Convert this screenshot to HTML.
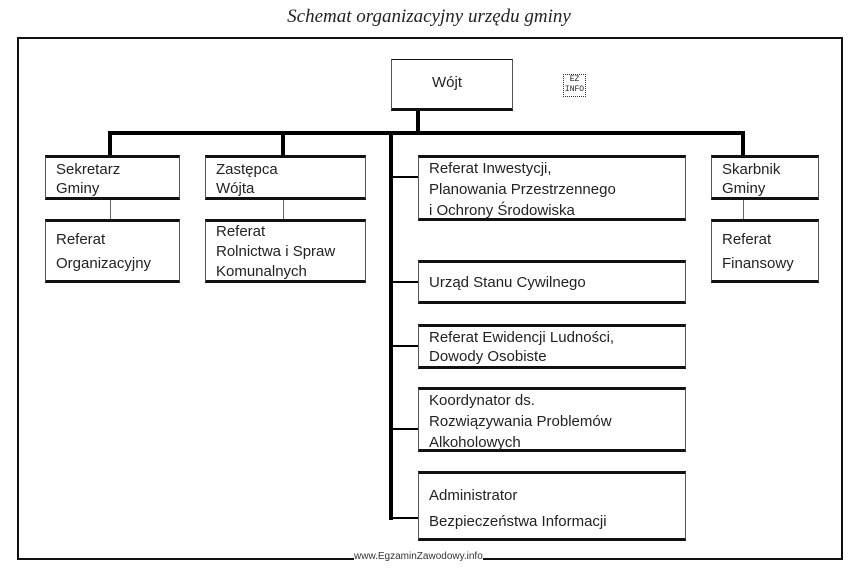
<!DOCTYPE html>
<html><head><meta charset="utf-8"><style>
body{margin:0;width:858px;height:568px;background:#fff;position:relative;overflow:hidden;font-family:"Liberation Sans",sans-serif;color:#222}
.a{position:absolute}
.b{position:absolute;box-sizing:border-box;border-top:3px solid #111;border-bottom:3px solid #111;border-left:1px solid #555;border-right:1px solid #555;background:#fff;font-size:15px;line-height:21px;padding-left:10px}
.k{position:absolute;background:#000}
.t{position:absolute;background:#666}
</style></head><body>
<div class="a" style="left:0;width:858px;top:6px;text-align:center;font-family:'Liberation Serif',serif;font-style:italic;font-size:19px">Schemat organizacyjny urzędu gminy</div>
<div class="a" style="left:17px;top:37px;width:826px;height:523px;box-sizing:border-box;border:2px solid #111"></div>
<div class="k" style="left:416px;top:109px;width:4px;height:25px"></div>
<div class="k" style="left:108px;top:131px;width:637px;height:4px"></div>
<div class="k" style="left:108px;top:131px;width:4px;height:25px"></div>
<div class="k" style="left:281px;top:131px;width:4px;height:25px"></div>
<div class="k" style="left:741px;top:131px;width:4px;height:25px"></div>
<div class="k" style="left:389px;top:131px;width:4px;height:389px"></div>
<div class="k" style="left:389px;top:176px;width:30px;height:2px"></div>
<div class="k" style="left:389px;top:281px;width:30px;height:2px"></div>
<div class="k" style="left:389px;top:345px;width:30px;height:2px"></div>
<div class="k" style="left:389px;top:428px;width:30px;height:2px"></div>
<div class="k" style="left:389px;top:517px;width:30px;height:2px"></div>
<div class="t" style="left:110px;top:198px;width:1px;height:22px"></div>
<div class="t" style="left:283px;top:198px;width:1px;height:22px"></div>
<div class="t" style="left:743px;top:198px;width:1px;height:22px"></div>
<div class="b" style="left:391px;top:59px;width:122px;height:52px;line-height:46px;padding-left:40px;border-top-width:1px">Wójt</div>
<div class="b" style="left:45px;top:155px;width:135px;height:45px;line-height:19px;padding-top:2px">Sekretarz<br>Gminy</div>
<div class="b" style="left:205px;top:155px;width:161px;height:45px;line-height:19px;padding-top:2px">Zastępca<br>Wójta</div>
<div class="b" style="left:45px;top:219px;width:135px;height:64px;line-height:24px;padding-top:6px">Referat<br>Organizacyjny</div>
<div class="b" style="left:205px;top:219px;width:161px;height:64px;line-height:20px;padding-top:0px">Referat<br>Rolnictwa i Spraw<br>Komunalnych</div>
<div class="b" style="left:418px;top:155px;width:268px;height:66px;line-height:21px;padding-top:0">Referat Inwestycji,<br>Planowania Przestrzennego<br>i Ochrony Środowiska</div>
<div class="b" style="left:711px;top:155px;width:108px;height:45px;line-height:19px;padding-top:2px">Skarbnik<br>Gminy</div>
<div class="b" style="left:711px;top:219px;width:108px;height:64px;line-height:24px;padding-top:6px">Referat<br>Finansowy</div>
<div class="b" style="left:418px;top:260px;width:268px;height:44px;line-height:40px">Urząd Stanu Cywilnego</div>
<div class="b" style="left:418px;top:324px;width:268px;height:45px;line-height:19px;padding-top:1px">Referat Ewidencji Ludności,<br>Dowody Osobiste</div>
<div class="b" style="left:418px;top:387px;width:268px;height:65px;line-height:21px;padding-top:0">Koordynator ds.<br>Rozwiązywania Problemów<br>Alkoholowych</div>
<div class="b" style="left:418px;top:471px;width:268px;height:70px;line-height:26px;padding-top:9px">Administrator<br>Bezpieczeństwa Informacji</div>
<div class="a" style="left:563px;top:74px;width:21px;height:21px;border:1px dotted #333;font-size:8px;line-height:10px;text-align:center;font-family:'Liberation Mono',monospace">EZ<br>INFO</div>
<div class="a" style="left:354px;top:551px;font-size:10px;color:#333;background:#fff">www.EgzaminZawodowy.info</div>
</body></html>
